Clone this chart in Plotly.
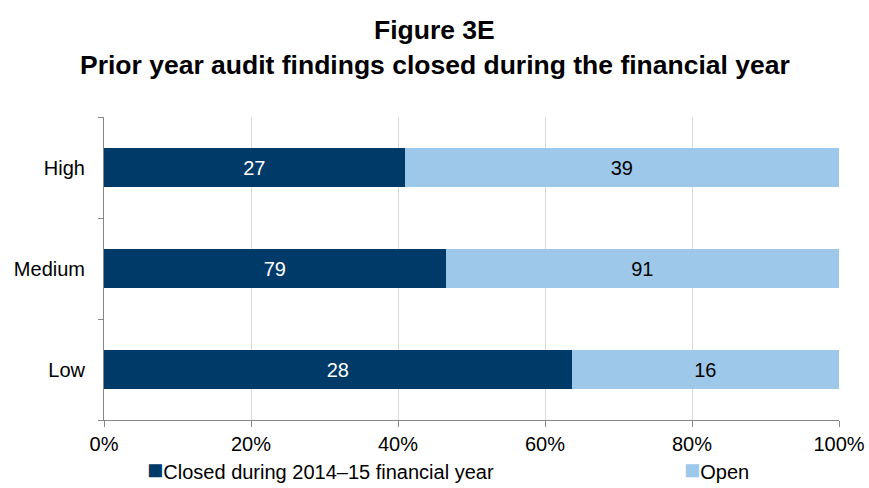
import plotly.graph_objects as go

# Audit findings by risk rating
categories = ["High", "Medium", "Low"]
closed = [27, 79, 28]
open_ = [39, 91, 16]
series_names = ["Closed during 2014–15 financial year", "Open"]
tick_vals = [0, 0.2, 0.4, 0.6, 0.8, 1.0]

dark = "#003A68"
light = "#9DC8E9"
font = "Liberation Sans, Arial, sans-serif"

totals = [c + o for c, o in zip(closed, open_)]
closed_share = [c / t for c, t in zip(closed, totals)]
open_share = [o / t for o, t in zip(open_, totals)]

fig = go.Figure()
fig.add_trace(go.Bar(
    y=categories, x=closed_share, orientation="h", name=series_names[0],
    marker=dict(color=dark, line=dict(width=0)),
    text=[str(v) for v in closed], textposition="inside", insidetextanchor="middle",
    textfont=dict(color="white", size=20, family=font), showlegend=False,
))
fig.add_trace(go.Bar(
    y=categories, x=open_share, orientation="h", name=series_names[1],
    marker=dict(color=light, line=dict(width=0)),
    text=[str(v) for v in open_], textposition="inside", insidetextanchor="middle",
    textfont=dict(color="black", size=20, family=font), showlegend=False,
))

W, H = 869, 488
ML, MR, MT, MB = 104, 30, 117, 68
plot_w = W - ML - MR

fig.update_layout(
    width=W, height=H,
    barmode="stack", bargap=0.62,
    plot_bgcolor="white", paper_bgcolor="white",
    margin=dict(l=ML, r=MR, t=MT, b=MB, autoexpand=False),
    font=dict(family=font, size=20, color="black"),
    uniformtext=dict(minsize=20, mode="show"),
    xaxis=dict(
        range=[0, 1], tickvals=tick_vals, tickformat=".0%",
        showgrid=True, gridcolor="#D9D9D9", gridwidth=1,
        showline=True, linecolor="#868686", linewidth=1,
        ticks="outside", ticklen=6, tickcolor="#868686",
        zeroline=False, tickfont=dict(size=20), automargin=False,
    ),
    yaxis=dict(
        categoryorder="array", categoryarray=categories[::-1],
        showline=True, linecolor="#868686", linewidth=1,
        ticks="outside", ticklen=5, tickcolor="#868686",
        tickson="boundaries", showgrid=False, tickfont=dict(size=20),
        ticklabelstandoff=14, automargin=False,
    ),
    showlegend=False,
)

# Title lines, centred on the page
title_x = (W / 2 - ML) / plot_w
fig.add_annotation(text="<b>Figure 3E</b>", xref="paper", yref="paper",
                   x=title_x, y=1, yshift=87, xanchor="center", yanchor="middle",
                   showarrow=False, font=dict(size=26.5, family=font))
fig.add_annotation(text="<b>Prior year audit findings closed during the financial year</b>",
                   xref="paper", yref="paper", x=title_x, y=1, yshift=52,
                   xanchor="center", yanchor="middle", showarrow=False,
                   font=dict(size=26.5, family=font))

# Legend entries as text with square swatches
legend_x = [145, 682]
for name, col, px in zip(series_names, [dark, light], legend_x):
    fig.add_annotation(
        text=f"<span style='color:{col};font-size:27px'>■</span>{name}",
        xref="paper", yref="paper", x=(px - ML) / plot_w, y=0, yshift=-50,
        xanchor="left", yanchor="middle", showarrow=False,
        font=dict(size=20, family=font),
    )

fig.write_html("out.html")
